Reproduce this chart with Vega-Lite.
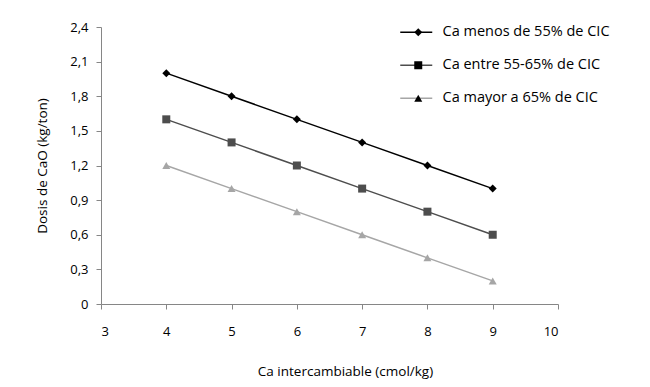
{
  "$schema": "https://vega.github.io/schema/vega-lite/v6.json",
  "autosize": {"type": "none"},
  "padding": {"left": 101, "top": 27, "right": 92, "bottom": 83},
  "width": 457,
  "height": 277,
  "background": "white",
  "config": {
    "view": {"stroke": null},
    "font": "Open Sans",
    "axis": {"labelFont": "Open Sans", "titleFont": "Open Sans", "labelFontSize": 13, "titleFontSize": 13.5, "titleFontWeight": "normal", "labelColor": "#000", "titleColor": "#000", "domainColor": "#868686", "tickColor": "#868686", "tickSize": 5, "grid": false}
  },
  "data": {"values": [
    {"x": 4, "y": 2.0, "serie": "Ca menos de 55% de CIC"},
    {"x": 5, "y": 1.8, "serie": "Ca menos de 55% de CIC"},
    {"x": 6, "y": 1.6, "serie": "Ca menos de 55% de CIC"},
    {"x": 7, "y": 1.4, "serie": "Ca menos de 55% de CIC"},
    {"x": 8, "y": 1.2, "serie": "Ca menos de 55% de CIC"},
    {"x": 9, "y": 1.0, "serie": "Ca menos de 55% de CIC"},
    {"x": 4, "y": 1.6, "serie": "Ca entre 55-65% de CIC"},
    {"x": 5, "y": 1.4, "serie": "Ca entre 55-65% de CIC"},
    {"x": 6, "y": 1.2, "serie": "Ca entre 55-65% de CIC"},
    {"x": 7, "y": 1.0, "serie": "Ca entre 55-65% de CIC"},
    {"x": 8, "y": 0.8, "serie": "Ca entre 55-65% de CIC"},
    {"x": 9, "y": 0.6, "serie": "Ca entre 55-65% de CIC"},
    {"x": 4, "y": 1.2, "serie": "Ca mayor a 65% de CIC"},
    {"x": 5, "y": 1.0, "serie": "Ca mayor a 65% de CIC"},
    {"x": 6, "y": 0.8, "serie": "Ca mayor a 65% de CIC"},
    {"x": 7, "y": 0.6, "serie": "Ca mayor a 65% de CIC"},
    {"x": 8, "y": 0.4, "serie": "Ca mayor a 65% de CIC"},
    {"x": 9, "y": 0.2, "serie": "Ca mayor a 65% de CIC"}
  ]},
  "encoding": {
    "x": {"field": "x", "type": "quantitative", "scale": {"domain": [3, 10], "nice": false, "zero": false},
      "axis": {"values": [3, 4, 5, 6, 7, 8, 9, 10], "format": "d", "labelPadding": 16, "title": "Ca intercambiable (cmol/kg)", "titlePadding": 26, "titleX": 244}},
    "y": {"field": "y", "type": "quantitative", "scale": {"domain": [0, 2.4], "nice": false},
      "axis": {"values": [0, 0.3, 0.6, 0.9, 1.2, 1.5, 1.8, 2.1, 2.4], "labelExpr": "datum.value == 0 ? '0' : replace(format(datum.value, '.1f'), '.', ',')", "labelPadding": 8, "title": "Dosis de CaO  (kg/ton)", "titlePadding": 20}}
  },
  "layer": [
    {"mark": {"type": "line", "strokeWidth": 1.5},
      "encoding": {
        "color": {"field": "serie", "type": "nominal",
          "scale": {"domain": ["Ca menos de 55% de CIC", "Ca entre 55-65% de CIC", "Ca mayor a 65% de CIC"], "range": ["#000000", "#4d4d4d", "#a6a6a6"]},
          "legend": {"title": null, "orient": "none", "legendX": 308, "legendY": -2, "padding": 0, "labelFont": "Open Sans", "labelFontSize": 14.5, "labelColor": "#000", "labelOffset": 19, "labelLimit": 400, "rowPadding": 18, "symbolSize": 100, "symbolStrokeWidth": 1.5, "symbolType": "M-3.2,0L3.2,0"}
        }
      }
    },
    {"mark": {"type": "point", "filled": true, "opacity": 1},
      "encoding": {
        "fill": {"field": "serie", "type": "nominal",
          "scale": {"domain": ["Ca menos de 55% de CIC", "Ca entre 55-65% de CIC", "Ca mayor a 65% de CIC"], "range": ["#000000", "#4d4d4d", "#a6a6a6"]},
          "legend": null},
        "shape": {"field": "serie", "type": "nominal",
          "scale": {"domain": ["Ca menos de 55% de CIC", "Ca entre 55-65% de CIC", "Ca mayor a 65% de CIC"], "range": ["diamond", "square", "triangle-up"]},
          "legend": {"title": null, "orient": "none", "legendX": 310, "legendY": -2, "padding": 0, "labelFont": "Open Sans", "labelFontSize": 14.5, "labelExpr": "''", "labelOffset": 19, "rowPadding": 18, "symbolSize": 64, "symbolOpacity": 1, "symbolStrokeWidth": 0}
        },
        "size": {"value": 64}
      }
    }
  ],
  "resolve": {"legend": {"color": "independent", "shape": "independent"}}
}
